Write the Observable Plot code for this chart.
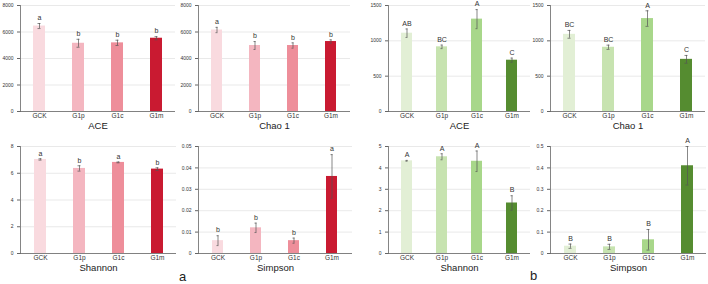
<!DOCTYPE html>
<html>
<head>
<meta charset="utf-8">
<script src="https://cdn.jsdelivr.net/npm/d3@7"></script>
<script src="https://cdn.jsdelivr.net/npm/@observablehq/plot@0.6"></script>
<style>
  html, body { margin: 0; padding: 0; background: #fff; }
  #wrap { position: relative; width: 708px; height: 284px; overflow: hidden; font-family: "Liberation Sans", Arial, sans-serif; }
  .panel { position: absolute; }
  .tag { position: absolute; font-size: 13px; line-height: 13px; color: #222; }
</style>
</head>
<body>
<div id="wrap"></div>
<script>
// ---------- data ----------
const groups = ["GCK", "G1p", "G1c", "G1m"];
const redColors = ["#f9dadf", "#f4b6c0", "#ee8e9a", "#c91a31"];
const greenColors = ["#e2efd5", "#c7e3b0", "#a8d78a", "#558c30"];

// panel a (red)
const aAceMean = [6450, 5150, 5180, 5530];
const aAceErr = [190, 300, 200, 120];
const aAceLet = ["a", "b", "b", "b"];
const aChaoMean = [6150, 4980, 4980, 5280];
const aChaoErr = [200, 300, 200, 130];
const aChaoLet = ["a", "b", "b", "b"];
const aShanMean = [7.03, 6.36, 6.81, 6.31];
const aShanErr = [0.05, 0.2, 0.03, 0.1];
const aShanLet = ["a", "b", "a", "b"];
const aSimpMean = [0.006, 0.012, 0.006, 0.036];
const aSimpErr = [0.0023, 0.0022, 0.0012, 0.0102];
const aSimpLet = ["b", "b", "b", "a"];

// panel b (green)
const bAceMean = [1108, 915, 1307, 726];
const bAceErr = [60, 25, 135, 30];
const bAceLet = ["AB", "BC", "A", "C"];
const bChaoMean = [1092, 909, 1315, 738];
const bChaoErr = [55, 30, 110, 55];
const bChaoLet = ["BC", "BC", "A", "C"];
const bShanMean = [4.33, 4.52, 4.31, 2.36];
const bShanErr = [0.02, 0.14, 0.48, 0.34];
const bShanLet = ["A", "A", "A", "B"];
const bSimpMean = [0.034, 0.031, 0.064, 0.41];
const bSimpErr = [0.01, 0.012, 0.048, 0.09];
const bSimpLet = ["B", "B", "B", "A"];

const ticks8000 = [0, 2000, 4000, 6000, 8000];
const ticks8 = [0, 2, 4, 6, 8];
const ticks005 = [0, 0.01, 0.02, 0.03, 0.04, 0.05];
const ticks1500 = [0, 500, 1000, 1500];
const ticks5 = [0, 1, 2, 3, 4, 5];
const ticks05 = [0, 0.1, 0.2, 0.3, 0.4, 0.5];

// ---------- layout ----------
const ML = 22, MR = 2, MB = 24;
const panels = [
  {fx: 20,  fy: 5,     fw: 155, fh: 106, max: 8000, ticks: ticks8000, title: "ACE",     mean: aAceMean,  err: aAceErr,  lets: aAceLet,  colors: redColors},
  {fx: 198, fy: 5,     fw: 152, fh: 106, max: 8000, ticks: ticks8000, title: "Chao 1",  mean: aChaoMean, err: aChaoErr, lets: aChaoLet, colors: redColors},
  {fx: 388, fy: 5,     fw: 142, fh: 106, max: 1500, ticks: ticks1500, title: "ACE",     mean: bAceMean,  err: bAceErr,  lets: bAceLet,  colors: greenColors},
  {fx: 550, fy: 5,     fw: 155, fh: 106, max: 1500, ticks: ticks1500, title: "Chao 1",  mean: bChaoMean, err: bChaoErr, lets: bChaoLet, colors: greenColors},
  {fx: 20,  fy: 145.5, fw: 156, fh: 107, max: 8,    ticks: ticks8,    title: "Shannon", mean: aShanMean, err: aShanErr, lets: aShanLet, colors: redColors},
  {fx: 198, fy: 145.5, fw: 154, fh: 107, max: 0.05, ticks: ticks005,  title: "Simpson", mean: aSimpMean, err: aSimpErr, lets: aSimpLet, colors: redColors},
  {fx: 388, fy: 145.5, fw: 142, fh: 107, max: 5,    ticks: ticks5,    title: "Shannon", mean: bShanMean, err: bShanErr, lets: bShanLet, colors: greenColors},
  {fx: 550, fy: 145.5, fw: 156, fh: 107, max: 0.5,  ticks: ticks05,   title: "Simpson", mean: bSimpMean, err: bSimpErr, lets: bSimpLet, colors: greenColors}
];

const wrap = document.getElementById("wrap");
const fmt = d3.format("~g");

for (const p of panels) {
  const MT = 5;
  const rows = groups.map((g, i) => ({g, v: p.mean[i], e: p.err[i], l: p.lets[i]}));
  const chart = Plot.plot({
    width: ML + p.fw + MR,
    height: MT + p.fh + MB,
    marginLeft: ML, marginRight: MR, marginTop: MT, marginBottom: MB,
    style: {fontFamily: "'Liberation Sans', Arial, sans-serif", color: "#333", background: "transparent", overflow: "visible"},
    x: {type: "band", domain: groups, paddingInner: 0.7, paddingOuter: 0.33, axis: null},
    y: {domain: [0, p.max], axis: null},
    color: {type: "ordinal", domain: groups, range: p.colors},
    marks: [
      Plot.gridY(p.ticks, {stroke: "#e3e3e3", strokeOpacity: 1, strokeWidth: 0.8}),
      Plot.barY(rows, {x: "g", y: "v", fill: "g"}),
      Plot.ruleX(rows, {x: "g", y1: d => d.v - d.e, y2: d => d.v + d.e, stroke: "#555", strokeWidth: 0.7}),
      Plot.tickY(rows, {x: "g", y: d => d.v + d.e, stroke: "#555", strokeWidth: 0.7, insetLeft: 4.5, insetRight: 4.5}),
      Plot.tickY(rows, {x: "g", y: d => d.v - d.e, stroke: "#555", strokeWidth: 0.7, insetLeft: 4.5, insetRight: 4.5}),
      Plot.text(rows, {x: "g", y: d => d.v + d.e, text: "l", dy: -5.5, fontSize: 7, fill: "#333"}),
      Plot.ruleY([0], {stroke: "#666", strokeWidth: 0.8}),
      Plot.frame({anchor: "left", stroke: "#666", strokeWidth: 0.8}),
      Plot.axisY({ticks: p.ticks, tickFormat: fmt, tickSize: 3, tickPadding: 4, fontSize: 5, label: null, stroke: "#666"}),
      Plot.axisX({tickSize: 0, tickPadding: 2, fontSize: 6.5, label: null}),
      Plot.text([p.title], {frameAnchor: "bottom", dy: 17, fontSize: 9.5, fill: "#222"})
    ]
  });
  const div = document.createElement("div");
  div.className = "panel";
  div.style.left = (p.fx - ML) + "px";
  div.style.top = (p.fy - MT) + "px";
  div.appendChild(chart);
  wrap.appendChild(div);
}

const tagA = document.createElement("div");
tagA.className = "tag"; tagA.textContent = "a";
tagA.style.left = "179px"; tagA.style.top = "270px";
wrap.appendChild(tagA);
const tagB = document.createElement("div");
tagB.className = "tag"; tagB.textContent = "b";
tagB.style.left = "530px"; tagB.style.top = "269px";
wrap.appendChild(tagB);
</script>
</body>
</html>
